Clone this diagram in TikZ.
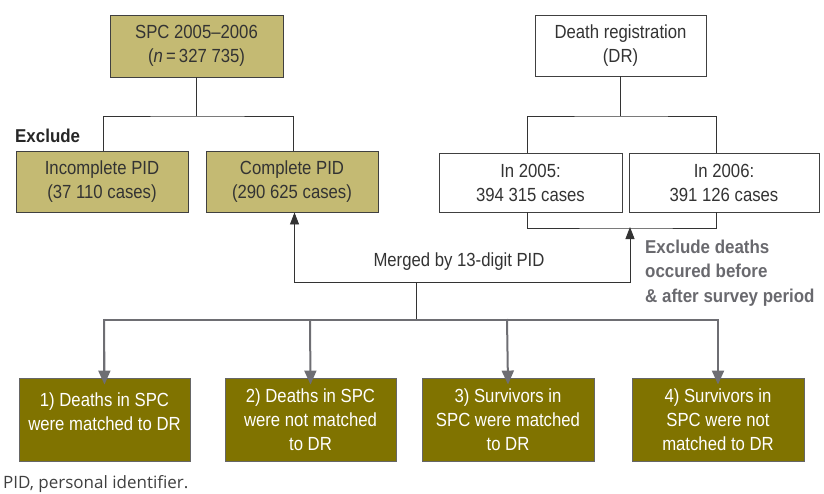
\documentclass[tikz,border=0pt]{standalone}
\usepackage{fontspec}
\setmainfont[FakeStretch=0.88]{Liberation Sans}
\newfontfamily\boldwide[FakeStretch=0.91]{Liberation Sans}
\newfontfamily\notefont{Open Sans}
\usetikzlibrary{arrows.meta}
\definecolor{lightolive}{RGB}{196,186,115}
\definecolor{darkolive}{RGB}{128,115,0}
\definecolor{linegray}{RGB}{110,110,115}
\definecolor{textgray}{RGB}{105,105,110}
\tikzset{
  base/.style={draw=black!75, line width=0.9pt, align=center, inner sep=0pt, font=\fontsize{19}{24}\selectfont, text=black!80},
  lightbox/.style={base, fill=lightolive},
  whitebox/.style={base, fill=white},
  darkbox/.style={base, fill=darkolive, text=white, draw=black!60},
  darktext/.style={align=center, inner sep=0pt, font=\fontsize{19}{24}\selectfont, text=white},
  conn/.style={draw=black!80, line width=0.9pt},
  grayconn/.style={draw=linegray, line width=2pt},
  uparrow/.style={conn, -{Triangle[length=12pt,width=9pt]}},
  downarrow/.style={grayconn, -{Triangle[length=14pt,width=12pt]}},
}
\begin{document}
\begin{tikzpicture}[x=1pt,y=-1pt]
\useasboundingbox (0,0) rectangle (824,493);
% top boxes
\node[lightbox, minimum width=173pt, minimum height=62pt] (spc) at (196.5,46) {SPC 2005--2006\\(\textit{n}\,=\,327 735)};
\node[lightbox, minimum width=172pt, minimum height=61pt] (inc) at (102,181.5) {Incomplete PID\\(37 110 cases)};
\node[lightbox, minimum width=172pt, minimum height=61pt] (com) at (292,181.5) {Complete PID\\(290 625 cases)};
\node[whitebox, minimum width=171pt, minimum height=61pt] (dr) at (620.5,45.5) {Death registration\\(DR)};
\node[whitebox, minimum width=183pt, minimum height=59pt] (y05) at (530.5,182.5) {In 2005:\\394 315 cases};
\node[whitebox, minimum width=190pt, minimum height=59pt] (y06) at (724,182.5) {In 2006:\\391 126 cases};
% labels
\node[anchor=west, inner sep=0pt, font=\boldwide\fontsize{18.6}{24}\selectfont\bfseries, text=black!85] (excl) at (15,136) {Exclude};
\node[anchor=west, inner sep=0pt, align=left, font=\boldwide\fontsize{18.6}{24.5}\selectfont\bfseries, text=textgray] (exd) at (645,273) {Exclude deaths\\occured before\\\& after survey period};
\node[inner sep=0pt, font=\fontsize{19}{24}\selectfont, text=black!80] (mrg) at (459,262) {Merged by 13-digit PID};
\node[anchor=west, inner sep=0pt, font=\notefont\fontsize{17}{20}\selectfont, text=black!75] (note) at (3,484) {PID, personal identifier.};
% bottom boxes
\node[darkbox, minimum width=171pt, minimum height=83pt] (b1) at (104.5,419.5) {};
\node[darktext] (b1t) at (104.5,412) {1) Deaths in SPC\\were matched to DR};
\node[darkbox, minimum width=171pt, minimum height=83pt] (b2) at (310.5,419.5) {2) Deaths in SPC\\were not matched\\to DR};
\node[darkbox, minimum width=172pt, minimum height=83pt] (b3) at (508,419.5) {3) Survivors in\\SPC were matched\\to DR};
\node[darkbox, minimum width=172pt, minimum height=83pt] (b4) at (718,419.5) {4) Survivors in\\SPC were not\\matched to DR};
% coordinates
\coordinate (sj) at (196.5,116);
\coordinate (dj) at (620.5,116);
\coordinate (dm) at (630,228);
\coordinate (mj) at (416,282);
\coordinate (gj) at (416,320);
% SPC tree
\draw[conn] (spc.south) -- (sj);
\draw[conn] (inc.north) ++(1,0) |- (sj) -| ([xshift=1pt]com.north);
% DR tree
\draw[conn] (dr.south) -- (dj);
\draw[conn] ([xshift=-3.5pt]y05.north) |- (dj) -| ([xshift=-8pt]y06.north);
\draw[conn] ([xshift=-3.5pt]y05.south) |- (dm) -| ([xshift=-8pt]y06.south);
% merge
\draw[uparrow] (mj) -| (com.south -| 294.5,0);
\draw[uparrow] (mj) -| ([yshift=1pt]dm);
\draw[conn] (mj) -- (gj);
% gray distribution
\draw[grayconn] (gj) -| (b1.north -| 104,0);
\draw[grayconn] (gj) -| (b4.north -| 718,0);
\draw[downarrow] (104,319) -- ([yshift=-7pt]b1.north);
\draw[downarrow] (310,319) -- ([yshift=-7pt]b2.north);
\draw[downarrow] (507,319) -- ([yshift=-7pt]b3.north);
\draw[downarrow] (718,319) -- ([yshift=-7pt]b4.north);
\end{tikzpicture}
\end{document}
